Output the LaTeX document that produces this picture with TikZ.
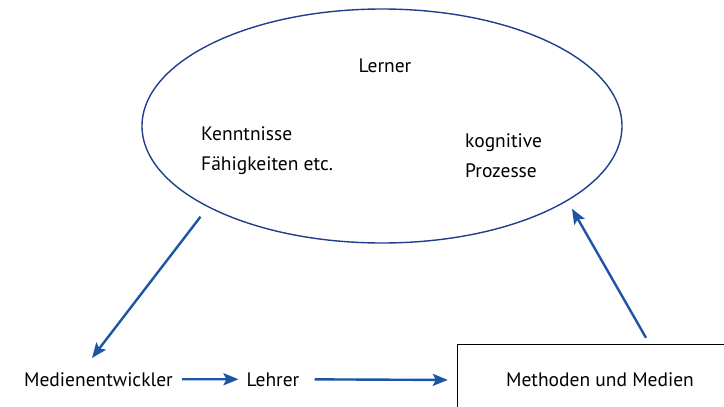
\documentclass[tikz,border=0pt]{standalone}
\usepackage{fontspec}
\setmainfont{PT Sans}
\usetikzlibrary{arrows.meta, shapes.geometric}
\definecolor{arrowblue}{RGB}{28, 84, 166}
\definecolor{ellipseblue}{RGB}{32, 62, 140}
\tikzstyle{arrow} = [-{Stealth[length=15pt, width=12pt, inset=3pt]}, line width=2.4pt, draw=arrowblue]
\tikzstyle{word} = [font=\fontsize{19.5}{30}\selectfont, inner sep=0pt]

\begin{document}
\begin{tikzpicture}[x=1pt, y=-1pt]
    \useasboundingbox (0,0) rectangle (724,407);
    \clip (0,0) rectangle (724,407);
    \fill[white] (0,0) rectangle (724,407);

    % Lerner
    \node[ellipse, draw=ellipseblue, line width=1.4pt, minimum width=480pt, minimum height=234pt] (lerner) at (382,126) {};
    \node[word, anchor=base] (lernerlabel) at (385,72) {Lerner};
    \node[word, anchor=base west] (kenntnisse) at (201,140) {Kenntnisse};
    \node[word, anchor=base west] (faehigkeiten) at (201,170) {Fähigkeiten etc.};
    \node[word, anchor=base west] (kognitive) at (465,147) {kognitive};
    \node[word, anchor=base west] (prozesse) at (465,177) {Prozesse};

    % Bottom row (the box runs off the right and bottom edge)
    \node[word, anchor=base] (entwickler) at (98.5,386) {Medienentwickler};
    \node[word, anchor=base] (lehrer) at (273,386) {Lehrer};
    \node[word, minimum width=284pt, minimum height=70pt] (methoden) at (600,380) {Methoden und Medien};
    \draw[line width=1pt] (methoden.south west) -- (methoden.north west) -- (methoden.north east);

    % Arrows
    \draw[arrow, shorten <=12pt] (lerner.205) -- ([xshift=-6.5pt, yshift=14pt]entwickler.north);
    \draw[arrow, shorten <=9pt, shorten >=8pt] (entwickler.east) -- (lehrer.west);
    \draw[arrow, shorten <=15pt, shorten >=10pt] (lehrer.east) -- (methoden.west);
    \draw[arrow, shorten >=9pt] ([xshift=46pt, yshift=7pt]methoden.north) -- (lerner.338);
\end{tikzpicture}
\end{document}
